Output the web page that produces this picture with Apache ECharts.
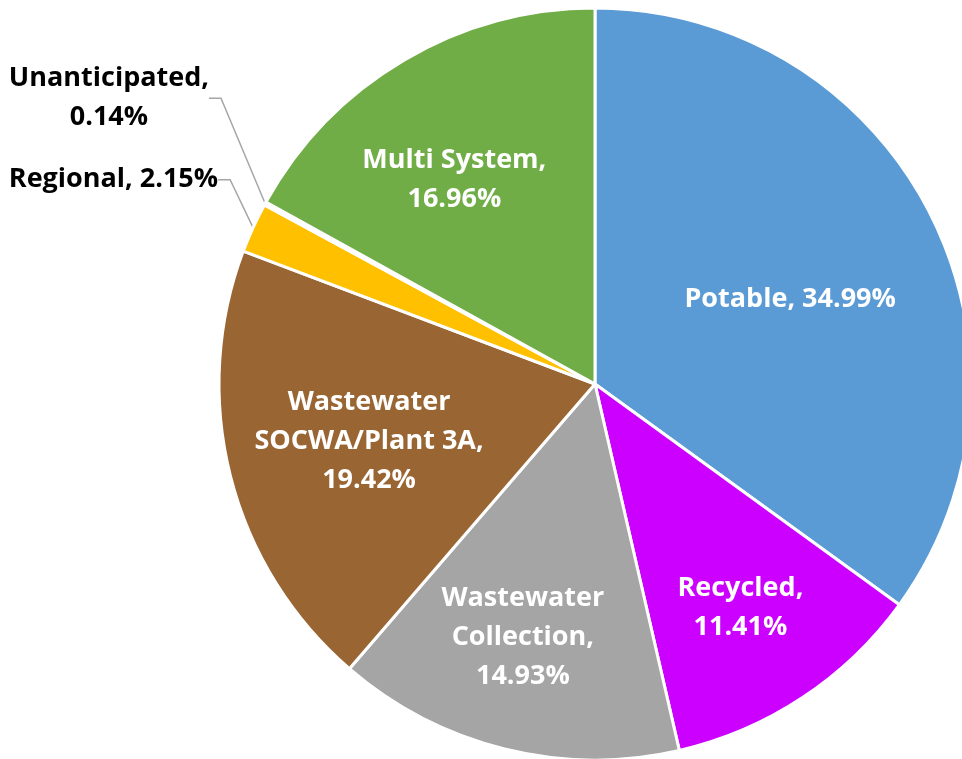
<!DOCTYPE html>
<html>
<head>
<meta charset="utf-8">
<script src="https://cdn.jsdelivr.net/npm/echarts@6/dist/echarts.min.js"></script>
<style>
html, body { margin: 0; padding: 0; background: #fff; }
#chartpie { width: 962px; height: 759px; }
</style>
</head>
<body>
<div id="chartpie"></div>
<script>
// slice names and shares (%), clockwise from 12 o'clock
var categories = ['Potable', 'Recycled', 'Wastewater Collection', 'Wastewater SOCWA/Plant 3A', 'Regional', 'Unanticipated', 'Multi System'];
var shares = [34.99, 11.41, 14.93, 19.42, 2.15, 0.14, 16.96];
var colors = ['#5B9BD5', '#CC00FF', '#A5A5A5', '#996633', '#FFC000', '#F2F2F2', '#70AD47'];

// label styling (Excel-like placement)
var wrapNames = { 'Wastewater Collection': 'Wastewater\nCollection', 'Wastewater SOCWA/Plant 3A': 'Wastewater\nSOCWA/Plant 3A' };
var oneLine = ['Potable', 'Regional'];
var outside = ['Regional', 'Unanticipated'];
var labelReach = [0.566, 0.71, 0.70, 0.62, 0, 0, 0.66];
var labelTurn = [3.5, 0.5, 2, 0, 0, 0, -4];
var outsideShift = { 4: [7, -77], 5: [-26, -98] };
var center = [595, 384];
var radius = 376;

var chartpie = echarts.init(document.getElementById('chartpie'));

var pieData = categories.map(function (name, i) {
    var item = { name: name, value: shares[i], itemStyle: { color: colors[i] } };
    if (outside.indexOf(name) >= 0) {
        item.label = { position: 'outside', color: '#000', overflow: 'none' };
        item.labelLine = { show: true };
    }
    return item;
});

chartpie.setOption({
    animation: false,
    series: [
        {
            type: 'pie',
            center: center,
            radius: radius,
            startAngle: 90,
            clockwise: true,
            data: pieData,
            itemStyle: { borderColor: '#fff', borderWidth: 3 },
            label: {
                position: 'inside',
                color: '#fff',
                fontFamily: 'Open Sans',
                fontWeight: 'bold',
                fontSize: 27,
                lineHeight: 39,
                formatter: function (p) {
                    var n = wrapNames[p.name] || p.name;
                    var sep = oneLine.indexOf(p.name) >= 0 ? ' ' : '\n';
                    return n + ',' + sep + p.value.toFixed(2) + '%';
                }
            },
            labelLine: {
                show: false,
                length: 15,
                length2: 12,
                lineStyle: { color: '#A6A6A6', width: 1.5 }
            },
            labelLayout: function (params) {
                var i = params.dataIndex;
                var r = params.labelRect;
                var lx = r.x + r.width / 2;
                var ly = r.y + r.height / 2;
                if (outsideShift[i]) {
                    return { x: lx + outsideShift[i][0], y: ly + outsideShift[i][1], align: 'center', verticalAlign: 'middle' };
                }
                var vx = lx - center[0];
                var vy = ly - center[1];
                var d = Math.sqrt(vx * vx + vy * vy);
                var s = labelReach[i] * radius / d;
                var a = labelTurn[i] * Math.PI / 180;
                var nx = (vx * Math.cos(a) - vy * Math.sin(a)) * s;
                var ny = (vx * Math.sin(a) + vy * Math.cos(a)) * s;
                return { dx: nx - vx, dy: ny - vy };
            }
        }
    ]
});
</script>
</body>
</html>
